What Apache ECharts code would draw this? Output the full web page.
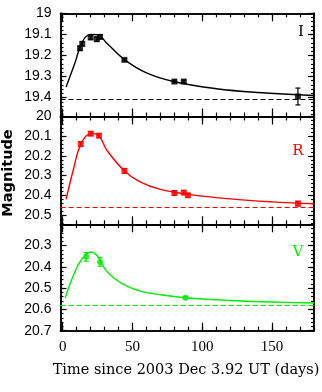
<!DOCTYPE html>
<html>
<head>
<meta charset="utf-8">
<script src="https://cdn.jsdelivr.net/npm/echarts@6/dist/echarts.min.js"></script>
<style>
  html, body { margin: 0; padding: 0; background: #fff; }
  #chart { width: 322px; height: 392px; }
</style>
</head>
<body>
<div id="chart"></div>
<script>
// time since 2003 Dec 3.92 UT (days), magnitudes

// I band
const iDays = [12.4, 14, 20, 24.4, 26.7, 44.2, 80, 86.7, 168.5];
const iMags = [19.166, 19.145, 19.115, 19.123, 19.112, 19.221, 19.324, 19.324, 19.395];
const iErrs = [0.01, 0.01, 0.008, 0.01, 0.01, 0.006, 0.007, 0.007, 0.04];
const iCurveDays = [2.4, 8.8, 14, 20, 25, 32, 44.2, 60, 80, 110, 140, 180];
const iCurveMags = [19.35, 19.235, 19.135, 19.1, 19.102, 19.145, 19.22, 19.283, 19.325, 19.358, 19.376, 19.39];
const iBase = 19.406;

// R band
const rDays = [12.9, 20.1, 26, 44.2, 80, 86.7, 89.6, 168.5];
const rMags = [20.14, 20.087, 20.097, 20.276, 20.388, 20.386, 20.4, 20.442];
const rErrs = [0.012, 0.01, 0.01, 0.012, 0.012, 0.01, 0.01, 0.012];
const rCurveDays = [2.4, 7.6, 13, 20, 25, 32, 44.2, 55, 70, 90, 120, 150, 180];
const rCurveMags = [20.42, 20.27, 20.14, 20.087, 20.093, 20.175, 20.276, 20.33, 20.37, 20.395, 20.418, 20.433, 20.443];
const rBase = 20.464;

// V band
const vDays = [16.7, 26.7, 87.9];
const vMags = [20.353, 20.377, 20.545];
const vErrs = [0.02, 0.02, 0.006];
const vCurveDays = [1.7, 7.6, 13, 20, 25, 30, 37, 46, 56, 70, 88, 120, 150, 180];
const vCurveMags = [20.546, 20.441, 20.37, 20.33, 20.35, 20.408, 20.455, 20.491, 20.515, 20.531, 20.545, 20.558, 20.565, 20.57];
const vBase = 20.578;

// ticks / labels
const xLabels = [0, 50, 100, 150];
const xMinor = [0, 10, 20, 30, 40, 50, 60, 70, 80, 90, 100, 110, 120, 130, 140, 150, 160, 170, 180];
const iLabels = [19, 19.1, 19.2, 19.3, 19.4];
const rLabels = [20, 20.1, 20.2, 20.3, 20.4, 20.5];
const vLabels = [20.3, 20.4, 20.5, 20.6, 20.7];

const minorTicks = (lo, hi) => {
  const out = [];
  for (let v = Math.ceil(lo * 50 - 1e-6); v <= Math.floor(hi * 50 + 1e-6); v++) out.push(v / 50);
  return out;
};

const panels = [
  { top: 13.3, height: 103.2, min: 19, max: 19.49, labels: iLabels, color: '#000',
    days: iDays, mags: iMags, errs: iErrs, cd: iCurveDays, cm: iCurveMags, base: iBase, sym: 'rect' },
  { top: 116.5, height: 107.8, min: 20, max: 20.547, labels: rLabels, color: '#ff0000',
    days: rDays, mags: rMags, errs: rErrs, cd: rCurveDays, cm: rCurveMags, base: rBase, sym: 'rect' },
  { top: 224.3, height: 106.4, min: 20.2, max: 20.7, labels: vLabels, color: '#00ee00',
    days: vDays, mags: vMags, errs: vErrs, cd: vCurveDays, cm: vCurveMags, base: vBase, sym: 'circle' }
];

const grid = [], xAxis = [], yAxis = [], series = [];
const frame = { show: true, onZero: false, lineStyle: { color: '#000', width: 1.5 } };

panels.forEach((p, k) => {
  grid.push({ left: 60.5, width: 253.5, top: p.top, height: p.height });

  [['bottom', xLabels, 8], ['bottom', xMinor, 4], ['top', xLabels, 8], ['top', xMinor, 4]].forEach((a, j) => {
    xAxis.push({
      type: 'value', gridIndex: k, position: a[0], min: -1.6, max: 180,
      axisLine: frame, splitLine: { show: false },
      axisTick: { show: true, inside: true, length: a[2], customValues: a[1], lineStyle: { color: '#000', width: 1.2 } },
      axisLabel: {
        show: k === 2 && j === 0, customValues: xLabels, margin: 9,
        fontFamily: 'Liberation Serif', fontSize: 15, color: '#000'
      }
    });
  });

  const minor = minorTicks(p.min, p.max);
  [['left', p.labels, 6], ['left', minor, 3], ['right', p.labels, 6], ['right', minor, 3]].forEach((a, j) => {
    yAxis.push({
      type: 'value', gridIndex: k, position: a[0], inverse: true, min: p.min, max: p.max,
      axisLine: frame, splitLine: { show: false },
      axisTick: { show: true, inside: true, length: a[2], customValues: a[1], lineStyle: { color: '#000', width: 1.2 } },
      axisLabel: {
        show: j === 0, customValues: p.labels, margin: 9,
        fontFamily: 'Liberation Sans', fontSize: 14, color: '#000',
        formatter: v => String(Math.round(v * 10) / 10)
      }
    });
  });

  const ai = k * 4;
  series.push({
    type: 'line', xAxisIndex: ai, yAxisIndex: ai,
    data: p.cd.map((d, i) => [d, p.cm[i]]),
    showSymbol: false, smooth: 0.4,
    lineStyle: { color: p.color, width: 1.4 },
    markLine: {
      silent: true, symbol: 'none', label: { show: false },
      lineStyle: { color: p.color, width: 1.2, type: [5, 3] },
      data: [{ yAxis: p.base }]
    },
    z: 2
  });
  series.push({
    type: 'custom', xAxisIndex: ai, yAxisIndex: ai,
    data: p.days.map((d, i) => [d, p.mags[i], p.errs[i]]),
    renderItem: (params, api) => {
      const x = api.value(0), y = api.value(1), e = api.value(2);
      const a = api.coord([x, y - e]), b = api.coord([x, y + e]);
      const st = { stroke: p.color, lineWidth: 1.2 };
      return { type: 'group', children: [
        { type: 'line', shape: { x1: a[0], y1: a[1], x2: b[0], y2: b[1] }, style: st },
        { type: 'line', shape: { x1: a[0] - 2.5, y1: a[1], x2: a[0] + 2.5, y2: a[1] }, style: st },
        { type: 'line', shape: { x1: b[0] - 2.5, y1: b[1], x2: b[0] + 2.5, y2: b[1] }, style: st }
      ] };
    },
    z: 3
  });
  series.push({
    type: 'scatter', xAxisIndex: ai, yAxisIndex: ai,
    data: p.days.map((d, i) => [d, p.mags[i]]),
    symbol: p.sym, symbolSize: 6,
    itemStyle: { color: p.color },
    z: 4
  });
});

const chart = echarts.init(document.getElementById('chart'), null, { renderer: 'canvas' });
chart.setOption({
  animation: false,
  backgroundColor: '#fff',
  grid, xAxis, yAxis, series,
  graphic: [
    { type: 'text', x: 8, y: 173, rotation: Math.PI / 2,
      style: { text: 'Magnitude', font: 'bold 14.5px "DejaVu Sans"', fill: '#000', align: 'center', verticalAlign: 'middle' } },
    { type: 'text', x: 186, y: 370,
      style: { text: 'Time since 2003 Dec 3.92 UT (days)', font: '14.5px "DejaVu Serif"', fill: '#000', align: 'center', verticalAlign: 'middle' } },
    { type: 'text', x: 301, y: 32,
      style: { text: 'I', font: '15px "DejaVu Serif"', fill: '#000', align: 'center', verticalAlign: 'middle' } },
    { type: 'text', x: 298, y: 151,
      style: { text: 'R', font: '15px "DejaVu Serif"', fill: '#ff0000', align: 'center', verticalAlign: 'middle' } },
    { type: 'text', x: 298, y: 252,
      style: { text: 'V', font: '15px "DejaVu Serif"', fill: '#00ee00', align: 'center', verticalAlign: 'middle' } }
  ]
});
</script>
</body>
</html>
